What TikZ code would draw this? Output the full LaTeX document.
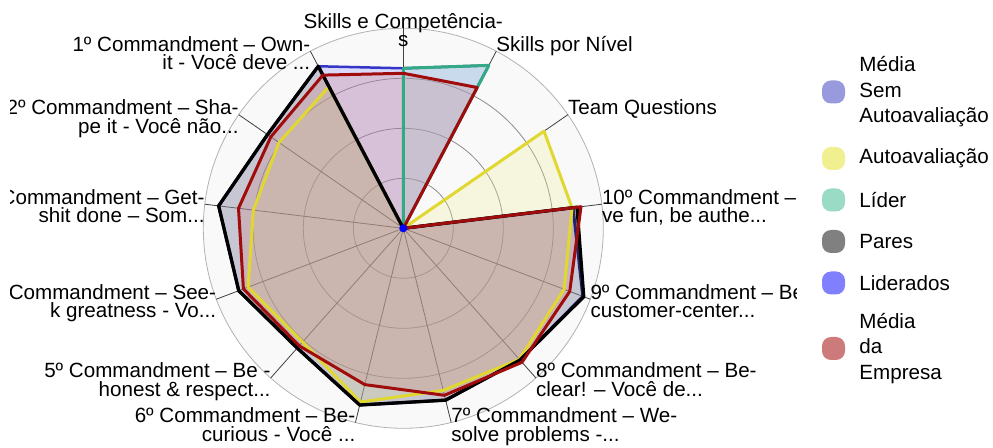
\documentclass[tikz,border=0pt]{standalone}
\usepackage{fontspec}
\setmainfont{Liberation Sans}
\usetikzlibrary{positioning}
\definecolor{msaline}{HTML}{24246B}
\definecolor{msafill}{HTML}{9999DD}
\definecolor{autoline}{HTML}{E0D830}
\definecolor{autofill}{HTML}{F0F090}
\definecolor{liderline}{HTML}{33AA85}
\definecolor{liderfill}{HTML}{99DBC4}
\definecolor{paresfill}{HTML}{808080}
\definecolor{lideradosline}{HTML}{3535C8}
\definecolor{lideradosfill}{HTML}{8080FF}
\definecolor{empline}{HTML}{A00C0C}
\definecolor{empfill}{HTML}{CC7A7A}
\definecolor{polarbg}{HTML}{F9F9F9}
\tikzstyle{ring}=[draw=black!45,line width=0.8pt]
\tikzstyle{spoke}=[draw=black!75,line width=0.8pt]
\tikzstyle{area}=[draw=none,fill opacity=0.25]
\tikzstyle{trace}=[line width=3pt,line join=round]
\tikzstyle{axislabel}=[inner sep=0pt,font=\fontsize{20.6}{18.6}\selectfont]
\tikzstyle{twolines}=[yshift=-18.6pt]
\tikzstyle{legendmark}=[rectangle,rounded corners=9pt,minimum size=23pt,inner sep=0pt]
\tikzstyle{legendtext}=[inner sep=0pt,align=left,font=\fontsize{20.6}{25.5}\selectfont]
\newcommand{\chartR}{200}
% one closed trace: first radius, then the other twelve (clockwise)
\newcommand{\radar}[3]{\path[#1] (90:#2) \foreach \rr [count=\ii] in {#3} {-- ({90-\ii*360/13}:\rr)} -- cycle;}

\begin{document}
\begin{tikzpicture}[x=1pt,y=1pt]
\useasboundingbox (0,0) rectangle (993,447);
\begin{scope}[shift={(403.3,218.7)}]
    \fill[polarbg] (0,0) circle (\chartR);
    \foreach \r in {50,100,150} \draw[ring] (0,0) circle (\r);
    \draw[ring,draw=black!30] (0,0) circle (\chartR);
    \foreach \i in {0,...,12} \draw[spoke] (0,0) -- ({90-\i*360/13}:\chartR);
    % areas
    \radar{area,fill=msafill}{0}{0,0,171,192,176,177,182,160,176,186,165,183}
    \radar{area,fill=lideradosfill}{160}{184,0,0,0,0,0,0,0,0,0,0,183}
    \radar{area,fill=autofill}{0}{0,171,170,172,175,167,179,152,166,151,151,160}
    \radar{area,fill=liderfill}{160}{184,0,0,0,0,0,0,0,0,0,0,0}
    \radar{area,fill=paresfill}{0}{0,0,175,193,176,177,182,160,176,186,165,183}
    \radar{area,fill=empfill}{155}{159,0,179,178,179,172,161,157,171,166,161,173}
    % outlines
    \radar{trace,draw=msaline}{0}{0,0,171,192,176,177,182,160,176,186,165,183}
    \radar{trace,draw=lideradosline,line width=2.5pt}{160}{184,0,0,0,0,0,0,0,0,0,0,183}
    \radar{trace,draw=autoline}{0}{0,171,170,172,175,167,179,152,166,151,151,160}
    \radar{trace,draw=liderline}{160}{184,0,0,0,0,0,0,0,0,0,0,0}
    \radar{trace,draw=black,line width=3.3pt}{0}{0,0,175,193,176,177,182,160,176,186,165,183}
    \radar{trace,draw=empline}{155}{159,0,179,178,179,172,161,157,171,166,161,173}
    \fill[blue] (0,0) circle (4);
\end{scope}
% axis labels, cut at the plot area
\begin{scope}
    \clip (10,0) rectangle (796,447);
    \begin{scope}[shift={(403.3,218.7)}]
    \node[axislabel,twolines,anchor=base,align=center] (ax0) at (90:\chartR) {Skills e Competência-\\s};
    \node[axislabel,anchor=base west] (ax1) at ({90-1*360/13}:\chartR) {Skills por Nível};
    \node[axislabel,anchor=base west] (ax2) at ({90-2*360/13}:\chartR) {Team Questions};
    \node[axislabel,twolines,anchor=base west,align=left] (ax3) at ({90-3*360/13}:\chartR) {10º Commandment – Ha-\\ve fun, be authe...};
    \node[axislabel,twolines,anchor=base west,align=left] (ax4) at ({90-4*360/13}:\chartR) {9º Commandment – Be\\customer-center...};
    \node[axislabel,twolines,anchor=base west,align=left] (ax5) at ({90-5*360/13}:\chartR) {8º Commandment – Be-\\clear! – Você de...};
    \node[axislabel,twolines,anchor=base west,align=left] (ax6) at ({90-6*360/13}:\chartR) {7º Commandment – We-\\solve problems -...};
    \node[axislabel,twolines,anchor=base east,align=right] (ax7) at ({90-7*360/13}:\chartR) {6º Commandment – Be-\\curious - Você ...};
    \node[axislabel,twolines,anchor=base east,align=right] (ax8) at ({90-8*360/13}:\chartR) {5º Commandment – Be -\\honest \& respect...};
    \node[axislabel,twolines,anchor=base east,align=right] (ax9) at ({90-9*360/13}:\chartR) {4º Commandment – See-\\k greatness - Vo...};
    \node[axislabel,twolines,anchor=base east,align=right] (ax10) at ({90-10*360/13}:\chartR) {3º Commandment – Get-\\shit done – Som...};
    \node[axislabel,twolines,anchor=base east,align=right] (ax11) at ({90-11*360/13}:\chartR) {2º Commandment – Sha-\\pe it - Você não...};
    \node[axislabel,twolines,anchor=base east,align=right] (ax12) at ({90-12*360/13}:\chartR) {1º Commandment – Own-\\it - Você deve ...};
    \end{scope}
\end{scope}
% legend
\node[legendmark,fill=msafill] (m1) at (833.5,355) {};
\node[legendmark,fill=autofill] (m2) at (833.5,288.5) {};
\node[legendmark,fill=liderfill] (m3) at (833.5,247) {};
\node[legendmark,fill=paresfill] (m4) at (833.5,205.5) {};
\node[legendmark,fill=lideradosfill] (m5) at (833.5,164) {};
\node[legendmark,fill=empfill] (m6) at (833.5,98.5) {};
\node[legendtext,right=14pt of m1] (t1) {Média\\Sem\\Autoavaliação};
\node[legendtext,right=14pt of m2] (t2) {Autoavaliação};
\node[legendtext,right=14pt of m3] (t3) {Líder};
\node[legendtext,right=14pt of m4] (t4) {Pares};
\node[legendtext,right=14pt of m5] (t5) {Liderados};
\node[legendtext,right=14pt of m6] (t6) {Média\\da\\Empresa};
\end{tikzpicture}
\end{document}
